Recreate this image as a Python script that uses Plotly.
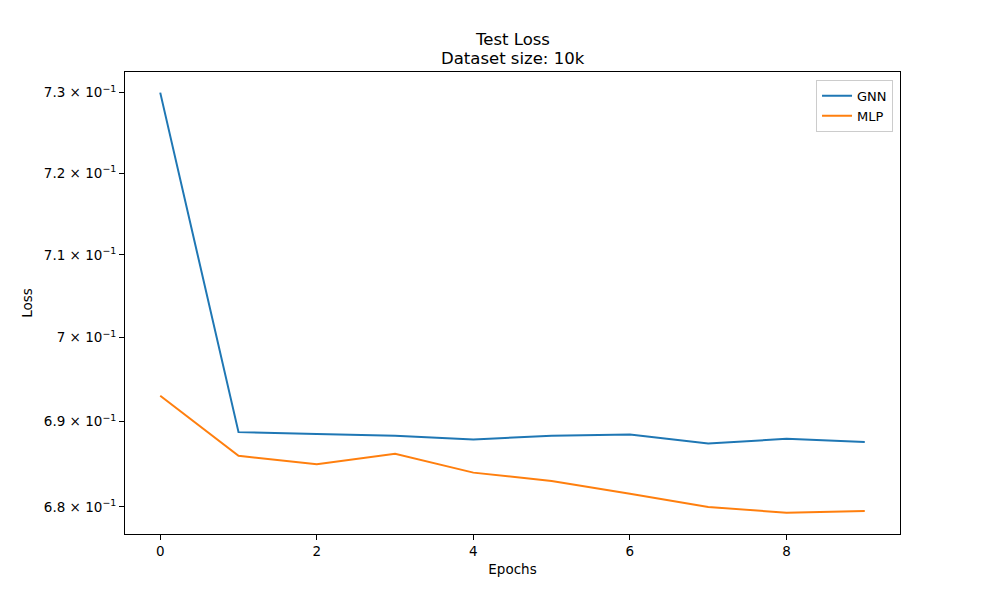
import math
import plotly.graph_objects as go

epochs = list(range(10))
gnn_loss = [0.7300, 0.68877, 0.68854, 0.68834, 0.68790, 0.68834, 0.68849, 0.68743, 0.68798, 0.68762]
mlp_loss = [0.69308, 0.68598, 0.68500, 0.68621, 0.68401, 0.68304, 0.68155, 0.68000, 0.67933, 0.67953]
y_tick_vals = [0.68, 0.69, 0.70, 0.71, 0.72, 0.73]
y_tick_text = ["6.8 × 10<sup>−1</sup>", "6.9 × 10<sup>−1</sup>", "7 × 10<sup>−1</sup>",
               "7.1 × 10<sup>−1</sup>", "7.2 × 10<sup>−1</sup>", "7.3 × 10<sup>−1</sup>"]
x_tick_vals = [0, 2, 4, 6, 8]
title_lines = ["Test Loss", "Dataset size: 10k"]

FONT = "DejaVu Sans"

fig = go.Figure()
fig.add_trace(go.Scatter(x=epochs, y=gnn_loss, mode="lines", name="GNN",
                         line=dict(color="#1f77b4", width=2)))
fig.add_trace(go.Scatter(x=epochs, y=mlp_loss, mode="lines", name="MLP",
                         line=dict(color="#ff7f0e", width=2)))

plot_h = 600 - 72 - 66
for text, ypx in zip(title_lines, [40, 58]):
    fig.add_annotation(text=text, xref="paper", yref="paper", x=0.5, y=(534 - ypx) / plot_h,
                       xanchor="center", yanchor="middle", showarrow=False,
                       font=dict(size=16.5, family=FONT, color="black"))

fig.update_layout(
    width=1000, height=600,
    margin=dict(l=125, r=100, t=72, b=66),
    paper_bgcolor="white", plot_bgcolor="white",
    font=dict(family=FONT, size=13.5, color="black"),
    showlegend=True,
    legend=dict(x=0.991, y=0.983, xanchor="right", yanchor="top",
                bordercolor="#cccccc", borderwidth=1, bgcolor="rgba(255,255,255,0.8)",
                font=dict(size=13), itemwidth=30, tracegroupgap=0),
    xaxis=dict(range=[-0.45, 9.45], tickvals=x_tick_vals, showgrid=False, zeroline=False,
               showline=True, linecolor="black", linewidth=1, mirror=True,
               ticks="outside", ticklen=5, tickcolor="black",
               title=dict(text="Epochs", standoff=6, font=dict(size=13.5))),
    yaxis=dict(type="log", range=[math.log10(0.67686), math.log10(0.73258)],
               tickvals=y_tick_vals, ticktext=y_tick_text, showgrid=False, zeroline=False,
               showline=True, linecolor="black", linewidth=1, mirror=True,
               ticks="outside", ticklen=5, tickcolor="black",
               title=dict(text="Loss", standoff=8, font=dict(size=13.5))),
)

fig.write_html("out.html")
